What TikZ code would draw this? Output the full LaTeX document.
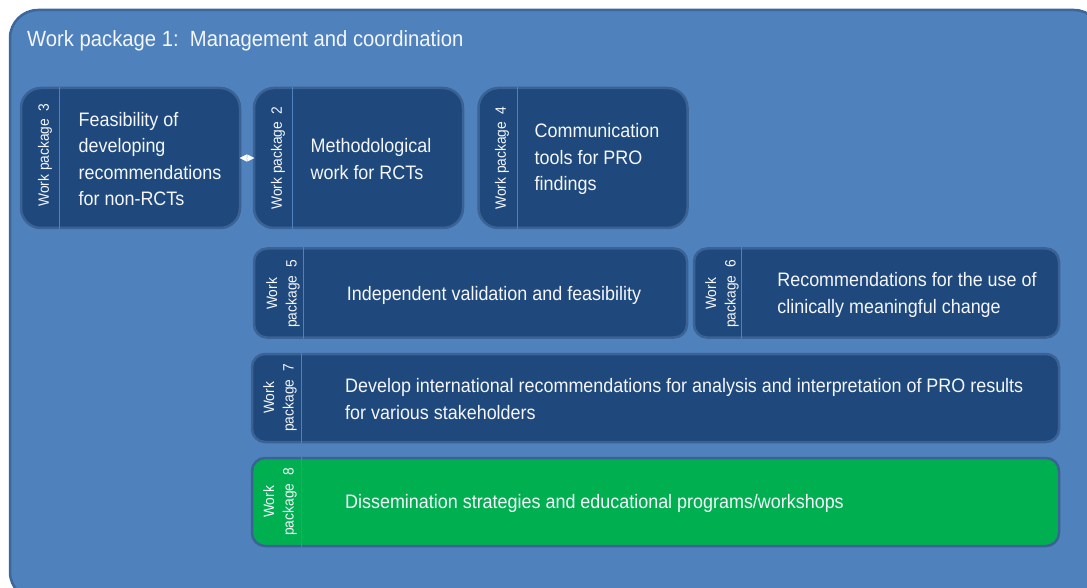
\documentclass[tikz,border=0pt]{standalone}
\usepackage{fontspec}
\setmainfont{Liberation Sans}[FakeStretch=0.92]
\usetikzlibrary{arrows.meta}

\definecolor{outerfill}{HTML}{4F81BD}
\definecolor{outerline}{HTML}{3B679C}
\definecolor{wpfill}{HTML}{1F497D}
\definecolor{wpline}{HTML}{3A6294}
\definecolor{wpgreen}{HTML}{00B050}
\definecolor{wptxt}{HTML}{F4F6FA}

\tikzset{
  outerbox/.style={draw=outerline, line width=2.5pt, fill=outerfill, rounded corners=28pt, inner sep=0pt},
  wpbox/.style={draw=wpline, line width=2.5pt, fill=wpfill, rounded corners=13pt, inner sep=0pt},
  bigbox/.style={wpbox, rounded corners=20pt},
  greenbox/.style={wpbox, fill=wpgreen},
  sepline/.style={draw=outerfill, line width=1pt},
  wplabel/.style={text=wptxt, rotate=90, align=center, inner sep=0pt,
    font=\fontsize{15}{19.5}\selectfont},
  wptext/.style={text=wptxt, align=left, inner sep=0pt,
    font=\fontsize{19.5}{26.5}\selectfont},
  titletext/.style={text=wptxt, inner sep=0pt, font=\fontsize{22}{26}\selectfont}
}

\begin{document}
\begin{tikzpicture}[x=1pt,y=-1pt]
\useasboundingbox (0,0) rectangle (1087,588);
\clip (0,0) rectangle (1087,588);
%% work package 1 (frame)
\node[outerbox, minimum width=1092pt, minimum height=590pt] (wp1) at (556,305) {};
\node[titletext, anchor=base west] (wp1title) at (27,47) {Work package 1:\ \ Management and coordination};

%% top row
\node[bigbox, minimum width=219pt, minimum height=140pt] (wp3) at (130.5,158) {};
\node[bigbox, minimum width=209pt, minimum height=140pt] (wp2) at (358.5,158) {};
\node[bigbox, minimum width=209pt, minimum height=140pt] (wp4) at (583,158) {};
%% middle rows
\node[wpbox, minimum width=433pt, minimum height=89pt] (wp5) at (470.5,293) {};
\node[wpbox, minimum width=365pt, minimum height=89pt] (wp6) at (876.5,293) {};
\node[wpbox, minimum width=807pt, minimum height=88pt] (wp7) at (655.5,398) {};
%% bottom row
\node[greenbox, minimum width=807pt, minimum height=88pt] (wp8) at (655.5,502) {};

%%% separators
\draw[sepline] ([xshift=40pt]wp3.north west) -- ([xshift=40pt]wp3.south west);
\draw[sepline] ([xshift=40pt]wp2.north west) -- ([xshift=40pt]wp2.south west);
\draw[sepline] ([xshift=40pt]wp4.north west) -- ([xshift=40pt]wp4.south west);
\draw[sepline] ([xshift=51pt]wp5.north west) -- ([xshift=51pt]wp5.south west);
\draw[sepline] ([xshift=49pt]wp6.north west) -- ([xshift=49pt]wp6.south west);
\draw[sepline] ([xshift=51pt]wp7.north west) -- ([xshift=51pt]wp7.south west);
\draw[sepline] ([xshift=51pt]wp8.north west) -- ([xshift=51pt]wp8.south west);

%% labels
\node[wplabel] (wp3label) at (45,155) {Work package\ \ 3};
\node[wplabel] (wp2label) at (278,158) {Work package\ \ 2};
\node[wplabel] (wp4label) at (502,158) {Work package\ \ 4};
\node[wplabel] (wp5label) at (283,294) {Work\\package\ \ 5};
\node[wplabel] (wp6label) at (722,294) {Work\\package\ \ 6};
\node[wplabel] (wp7label) at (280,398) {Work\\package\ \ 7};
\node[wplabel] (wp8label) at (280,502) {Work\\package\ \ 8};

%% texts
\node[wptext] (wp3text) at (150,159) {Feasibility of\\developing\\recommendations\\for non-RCTs};
\node[wptext] (wp2text) at (371,159) {Methodological\\work for RCTs};
\node[wptext] (wp4text) at (597,159) {Communication\\tools for PRO\\findings};
\node[wptext] (wp5text) at (494,295) {Independent validation and feasibility};
\node[wptext] (wp6text) at (907,295) {Recommendations for the use of\\clinically meaningful change};
\node[wptext, anchor=west] (wp7text) at (345,399) {Develop international recommendations for analysis and interpretation of PRO results\\for various stakeholders};
\node[wptext, anchor=west] (wp8text) at (345,503) {Dissemination strategies and educational programs/workshops};

%%% edges
\draw[white, line width=0.5pt, shorten <=-1.5pt, shorten >=-1.5pt,
  {Triangle[length=7pt,width=7pt]}-{Triangle[length=7pt,width=7pt]}] (wp3.east) -- (wp2.west);
\end{tikzpicture}
\end{document}
